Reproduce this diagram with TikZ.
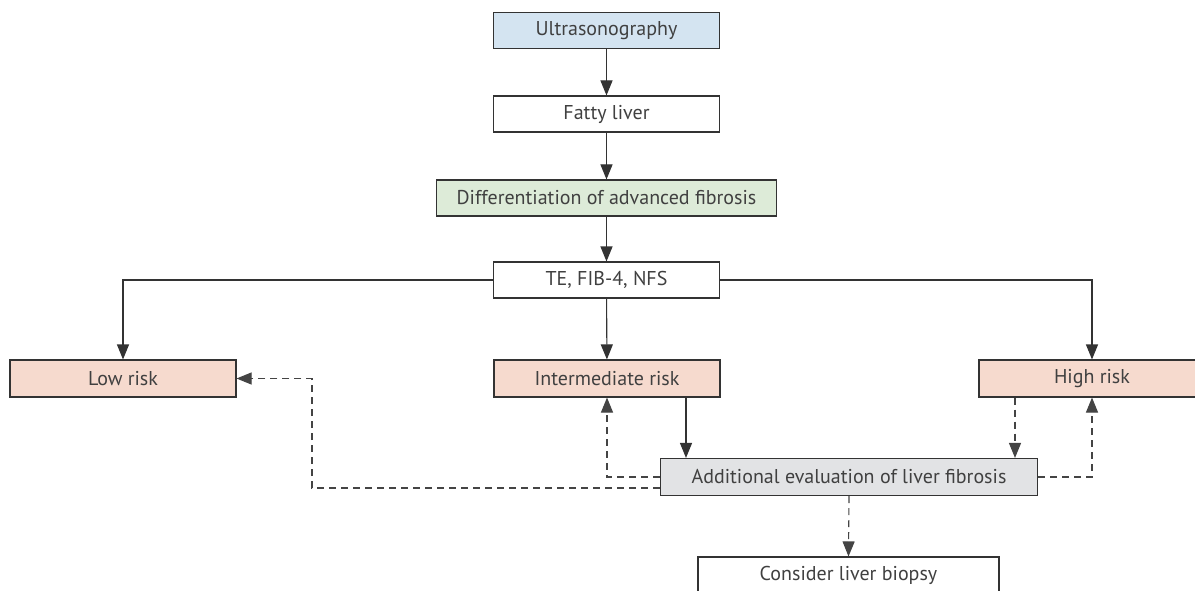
\documentclass[tikz,border=0pt]{standalone}
\usepackage{fontspec}
\setmainfont{PT Sans}
\usetikzlibrary{arrows.meta,calc}
\definecolor{bordc}{HTML}{333333}
\definecolor{dashc}{HTML}{444444}
\definecolor{txtc}{HTML}{404040}
\definecolor{bluef}{HTML}{D4E4F1}
\definecolor{greenf}{HTML}{DDEBD8}
\definecolor{pinkf}{HTML}{F6DACE}
\definecolor{grayf}{HTML}{E2E3E5}
\tikzset{
  box/.style={draw=bordc, line width=1.1pt, minimum height=36pt, inner sep=0pt,
    text=txtc, font=\fontsize{20}{24}\selectfont},
  conn/.style={draw=bordc, line width=1.1pt, -{Triangle[length=15pt,width=12pt]}},
  dconn/.style={conn, draw=dashc, dash pattern=on 7pt off 5pt},
}
\begin{document}
\begin{tikzpicture}[x=1pt,y=-1pt]
\useasboundingbox[clip] (0,0) rectangle (1195,591);
\node[box, fill=bluef, minimum width=226pt] (us) at (606.5,30.5) {Ultrasonography};
\node[box, fill=white, minimum width=226pt] (fatty) at (606.5,114) {Fatty liver};
\node[box, fill=greenf, minimum width=340pt] (diff) at (606.5,198) {Differentiation of advanced fibrosis};
\node[box, fill=white, minimum width=226pt] (te) at (606.5,280) {TE, FIB-4, NFS};
\node[box, fill=pinkf, minimum width=226pt, minimum height=37pt] (low) at (123,378.5) {Low risk};
\node[box, fill=pinkf, minimum width=226pt, minimum height=37pt] (inter) at (607,378.5) {Intermediate risk};
\node[box, fill=pinkf, minimum width=226pt, minimum height=37pt] (high) at (1092,378.5) {High risk};
\node[box, fill=grayf, minimum width=377pt, minimum height=37pt] (add) at (849,477) {Additional evaluation of liver fibrosis};
\node[box, fill=white, minimum width=301pt, minimum height=37pt] (bio) at (848.5,575.5) {Consider liver biopsy};
\draw[conn] (us) -- (fatty);
\draw[conn] (fatty) -- (diff);
\draw[conn] (diff) -- (te);
\draw[conn] (te) -- (inter);
\draw[conn] (te.west) -| (low.north);
\draw[conn] (te.east) -| (high.north);
\coordinate (ia) at ([xshift=79pt]inter.south);
\draw[conn] (ia) -- (ia |- add.north);
\coordinate (hd) at ([xshift=-77pt]high.south);
\draw[dconn] (hd) -- (hd |- add.north);
\draw[dconn] (add.west) -| (inter.south);
\draw[dconn] ([yshift=-11pt]add.west) -- ++(-348,0) |- (low.east);
\draw[dconn] (add.east) -| (high.south);
\draw[dconn] (add.south) -- (bio.north);
\end{tikzpicture}
\end{document}
